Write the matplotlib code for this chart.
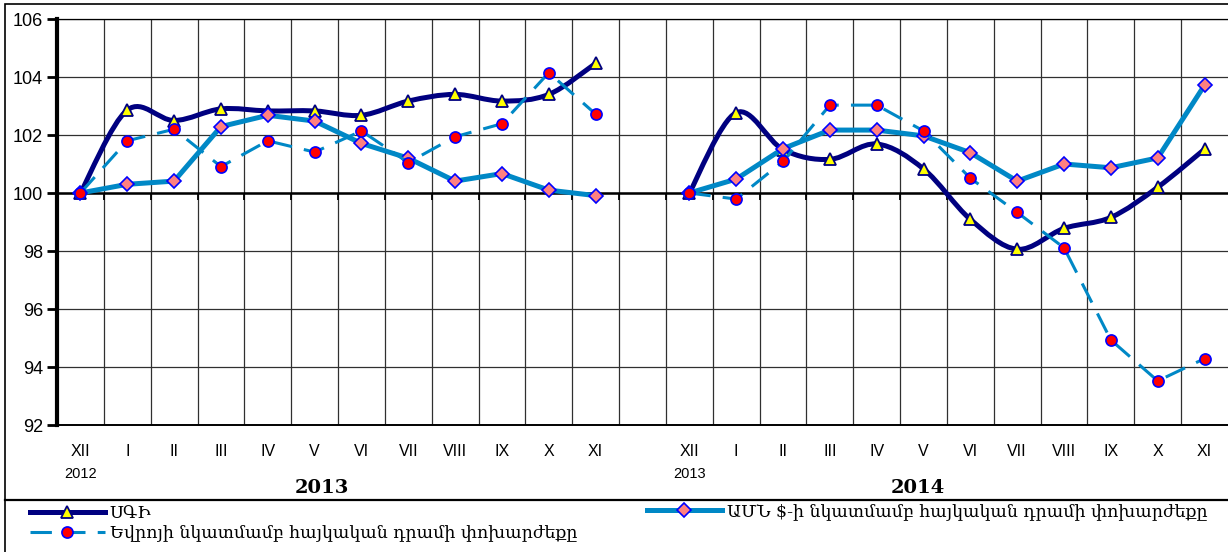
import numpy as np
import matplotlib.pyplot as plt
from matplotlib.path import Path
from matplotlib.patches import PathPatch, Rectangle
from matplotlib.lines import Line2D
from matplotlib.font_manager import FontProperties

# data
months = ["XII", "I", "II", "III", "IV", "V", "VI", "VII", "VIII", "IX", "X", "XI"]
start_years = ["2012", "2013"]
block_years = ["2013", "2014"]

cpi_2013 = [100.0, 102.86, 102.5, 102.9, 102.83, 102.83, 102.68, 103.17, 103.4, 103.17, 103.4, 104.47]
cpi_2014 = [100.0, 102.77, 101.5, 101.16, 101.69, 100.83, 99.09, 98.06, 98.78, 99.16, 100.2, 101.51]
usd_2013 = [100.0, 100.3, 100.41, 102.29, 102.68, 102.48, 101.71, 101.2, 100.41, 100.67, 100.1, 99.91]
usd_2014 = [100.0, 100.48, 101.53, 102.17, 102.17, 101.97, 101.39, 100.41, 101.0, 100.87, 101.21, 103.72]
eur_2013 = [100.0, 101.8, 102.2, 100.91, 101.8, 101.41, 102.14, 101.05, 101.94, 102.39, 104.15, 102.72]
eur_2014 = [100.0, 99.79, 101.09, 103.03, 103.03, 102.14, 100.51, 99.33, 98.11, 94.93, 93.52, 94.29]

lbl_cpi = "ՍԳԻ"
lbl_usd = "ԱՄՆ $-ի նկատմամբ հայկական դրամի փոխարժեքը"
lbl_eur = "Եվրոյի նկատմամբ հայկական դրամի փոխարժեքը"

NAVY = "#000080"
TEAL = "#0088C6"
ARM = FontProperties(family=["DejaVu Serif", "DejaVu Sans"], size=12.5)


def smooth_segments(blocks):
    # excel-like smoothed line (catmull-rom as bezier curves)
    verts, codes = [], []
    for xs, ys in blocks:
        n = len(xs)
        verts.append((xs[0], ys[0]))
        codes.append(Path.MOVETO)
        for i in range(n - 1):
            x0, y0 = (xs[i - 1], ys[i - 1]) if i > 0 else (xs[i], ys[i])
            x1, y1 = xs[i], ys[i]
            x2, y2 = xs[i + 1], ys[i + 1]
            x3, y3 = (xs[i + 2], ys[i + 2]) if i + 2 < n else (x2, y2)
            verts += [(x1 + (x2 - x0) / 6, y1 + (y2 - y0) / 6),
                      (x2 - (x3 - x1) / 6, y2 - (y3 - y1) / 6),
                      (x2, y2)]
            codes += [Path.CURVE4] * 3
    return Path(verts, codes)


x1 = np.arange(12)
x2 = np.arange(12) + 13
x_all = np.concatenate([x1, [12], x2])


def joined(a, b):
    return np.concatenate([a, [np.nan], b])


fig = plt.figure(figsize=(12.28, 5.52), dpi=100)
ax = fig.add_axes([57 / 1228, 127 / 552, 1171 / 1228, 406 / 552])

# CPI, smoothed
ax.add_patch(PathPatch(smooth_segments([(x1, cpi_2013), (x2, cpi_2014)]),
                       fill=False, edgecolor=NAVY, lw=3.6,
                       capstyle="round", joinstyle="round", zorder=3))
ax.plot(x_all, joined(cpi_2013, cpi_2014), ls="none", marker="^", ms=9,
        mfc="#FFFF00", mec=NAVY, mew=1.3, zorder=4)

# USD
ax.plot(x_all, joined(usd_2013, usd_2014), color=TEAL, lw=3.6,
        marker="D", ms=7, mfc="#FF8080", mec="#0000FF", mew=1.2, zorder=5)

# EUR
ax.plot(x_all, joined(eur_2013, eur_2014), color=TEAL, lw=2.2, dashes=(7, 4),
        marker="o", ms=8, mfc="#FF0000", mec="#0000FF", mew=1.2, zorder=6)

ax.set_xlim(-0.5, 24.5)
ax.set_ylim(92, 106)
ax.set_yticks(np.arange(92, 107, 2))
ax.set_xticks(np.arange(0.5, 24, 1))
ax.set_xticklabels([])
ax.grid(True, color="#303030", lw=0.9)
ax.set_axisbelow(True)
# bottom edge of the plot area (the category axis itself crosses at 100)
ax.axhline(92, color="black", lw=1.4, clip_on=False, zorder=2)

ax.spines["bottom"].set_position(("data", 100))
ax.spines["bottom"].set_linewidth(1.8)
ax.spines["left"].set_linewidth(3)
ax.spines["right"].set_visible(False)
ax.spines["top"].set_linewidth(0.9)
ax.tick_params(axis="x", direction="out", length=5, width=1.3)
ax.tick_params(axis="y", direction="out", length=7, width=2, pad=3, labelsize=13)
for t in ax.get_yticklabels():
    t.set_fontfamily("Liberation Sans")

# month labels at the bottom
sec = ax.secondary_xaxis("bottom")
sec.set_xticks(x_all, months + [""] + months)
sec.tick_params(length=0, pad=14, labelsize=11.5)
sec.spines["bottom"].set_visible(False)
for t in sec.get_xticklabels():
    t.set_fontfamily("Liberation Sans")

tr = ax.get_xaxis_transform()
for xpos, yr in zip([x1[0], x2[0]], start_years):
    ax.text(xpos, -0.12, yr, transform=tr, ha="center", va="center",
            fontsize=10.5, family="Liberation Sans")
for xpos, yr in zip([5.16, 17.88], block_years):
    ax.text(xpos, -0.155, yr, transform=tr, ha="center", va="center",
            fontsize=14, fontweight="bold", family="DejaVu Serif")

# frame and separator
fig.add_artist(Rectangle((5 / 1228, -0.1), 2, 1 - 4 / 552 + 0.1, fill=False,
                         lw=1.2, edgecolor="black", transform=fig.transFigure))
fig.add_artist(Line2D([5 / 1228, 1], [1 - 500 / 552] * 2, color="black", lw=1.6,
                      transform=fig.transFigure))

# legend
h_cpi = Line2D([], [], color=NAVY, lw=3.6, marker="^", ms=9, mfc="#FFFF00", mec=NAVY, mew=1.3)
h_usd = Line2D([], [], color=TEAL, lw=3.6, marker="D", ms=7, mfc="#FF8080", mec="#0000FF", mew=1.2)
h_eur = Line2D([], [], color=TEAL, lw=2.2, dashes=(7, 4), marker="o", ms=8,
               mfc="#FF0000", mec="#0000FF", mew=1.2)
common = dict(loc="upper left", frameon=False, prop=ARM, handlelength=4.3,
              handletextpad=0.3, labelspacing=0.15, borderpad=0, borderaxespad=0)
fig.legend(handles=[h_cpi, h_eur], labels=[lbl_cpi, lbl_eur],
           bbox_to_anchor=(30 / 1228, 1 - 505 / 552), **common)
fig.legend(handles=[h_usd], labels=[lbl_usd],
           bbox_to_anchor=(647 / 1228, 1 - 503 / 552), **common)

fig.savefig("out.png", dpi=100)
